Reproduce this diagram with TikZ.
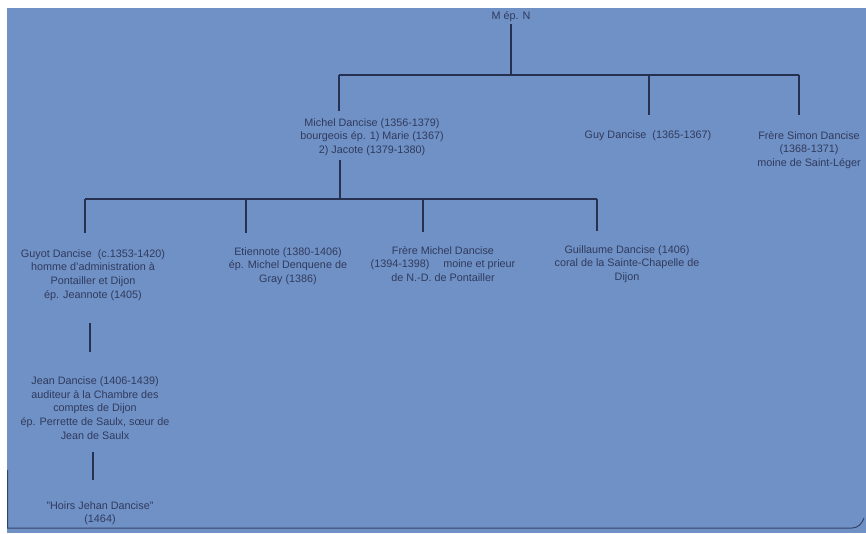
\documentclass[tikz,border=0pt]{standalone}
\usepackage{fontspec}
\setmainfont{Liberation Sans}
\definecolor{paper}{RGB}{112,145,198}
\definecolor{ink}{RGB}{48,58,92}
\definecolor{rule}{RGB}{38,48,80}
\tikzset{
    person/.style={align=center, text=ink, inner sep=2pt,
        font=\fontsize{10.8}{13.6}\selectfont},
    link/.style={draw=rule, line width=1.3pt}
}
\begin{document}
\begin{tikzpicture}[x=1pt, y=-1pt]
    \useasboundingbox (0,0) rectangle (866,533);
    \fill[white] (0,0) rectangle (866,533);
    \fill[paper] (7,8) rectangle (866,533);
    \draw[rule!80!paper, line width=1pt] (7.5,470) -- (7.5,528) -- (852,528) to[out=0, in=-110] (864,518);

    % Row 1
    \node[person] (mn) at (511,17) {M ép. N};
    \node[coordinate] (r1) at (511,75) {};
    \node[coordinate] (c1) at (339,75) {};
    \node[coordinate] (c2) at (649,75) {};
    \node[coordinate] (c3) at (799,75) {};
    \node[coordinate] (d1) at (339,111) {};
    \node[coordinate] (d2) at (649,115) {};
    \node[coordinate] (d3) at (799,115) {};

    % Row 2
    \node[person] (michel) at (372,137) {Michel Dancise (1356-1379)\\bourgeois ép. 1) Marie (1367)\\2) Jacote (1379-1380)};
    \node[person] (guy) at (648,136) {Guy Dancise\ \ (1365-1367)};
    \node[person] (simon) at (809,150) {Frère Simon Dancise\\(1368-1371)\\moine de Saint-Léger};
    \node[coordinate] (u1) at (340,160) {};
    \node[coordinate] (r2) at (340,199) {};
    \node[coordinate] (e1) at (85,199) {};
    \node[coordinate] (e2) at (246,199) {};
    \node[coordinate] (e3) at (423,199) {};
    \node[coordinate] (e4) at (597,199) {};
    \node[coordinate] (f1) at (85,233) {};
    \node[coordinate] (f2) at (246,233) {};
    \node[coordinate] (f3) at (423,232) {};
    \node[coordinate] (f4) at (597,231) {};

    % Row 3
    \node[person] (guyot) at (93,275) {Guyot Dancise\ \ (c.1353-1420)\\homme d'administration à\\Pontailler et Dijon\\ép. Jeannote (1405)};
    \node[person] (etien) at (288,266) {Etiennote (1380-1406)\\ép. Michel Denquene de\\Gray (1386)};
    \node[person] (fmichel) at (443,264) {Frère Michel Dancise\\(1394-1398)\quad\ moine et prieur\\de N.-D. de Pontailler};
    \node[person] (guil) at (627,264) {Guillaume Dancise (1406)\\coral de la Sainte-Chapelle de\\Dijon};
    \node[coordinate] (g1) at (90,323) {};
    \node[coordinate] (g2) at (90,352) {};

    % Row 4
    \node[person] (jean) at (95,408) {Jean Dancise (1406-1439)\\auditeur à la Chambre des\\comptes de Dijon\\ép. Perrette de Saulx, sœur de\\Jean de Saulx};
    \node[coordinate] (h1) at (93,452) {};
    \node[coordinate] (h2) at (93,480) {};

    % Row 5
    \node[person] (hoirs) at (100,513) {"Hoirs Jehan Dancise"\\(1464)};

    % Edges
    \draw[link] (mn) -- (r1);
    \draw[link] (c1) -- (c3);
    \draw[link] (c1) -- (d1);
    \draw[link] (c2) -- (d2);
    \draw[link] (c3) -- (d3);
    \draw[link] (u1) -- (r2);
    \draw[link] (e1) -- (e4);
    \draw[link] (e1) -- (f1);
    \draw[link] (e2) -- (f2);
    \draw[link] (e3) -- (f3);
    \draw[link] (e4) -- (f4);
    \draw[link] (g1) -- (g2);
    \draw[link] (h1) -- (h2);
\end{tikzpicture}
\end{document}
